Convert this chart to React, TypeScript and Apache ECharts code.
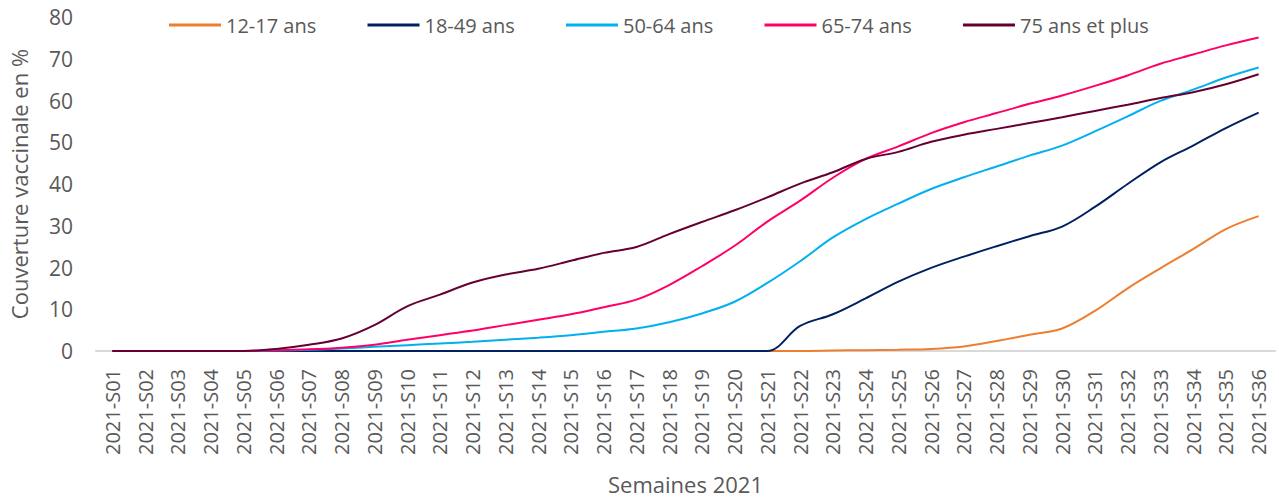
import React, { useEffect, useRef } from "react";
import * as echarts from "echarts";

const weeks = Array.from({ length: 36 }, (_, i) => `2021-S${String(i + 1).padStart(2, "0")}`);

const seriesNames = ["12-17 ans", "18-49 ans", "50-64 ans", "65-74 ans", "75 ans et plus"];
const seriesColors = ["#ED7D31", "#002060", "#00B0F0", "#FF0066", "#660033"];

const v1217 = [
  null, null, null, null, null, null, null, null, null, null,
  null, null, null, null, null, null, null, null, null, null,
  0, 0, 0.1, 0.2, 0.3, 0.5, 1.1, 2.4, 3.9, 5.4,
  9.6, 15.0, 19.8, 24.4, 29.2, 32.3,
];
const v1849 = [
  0, 0, 0, 0, 0, 0, 0, 0, 0, 0,
  0, 0, 0, 0, 0, 0, 0, 0, 0, 0,
  0, 6.0, 8.8, 12.6, 16.6, 19.9, 22.6, 25.1, 27.5, 29.8,
  34.5, 40.0, 45.2, 49.2, 53.4, 57.1,
];
const v5064 = [
  0, 0, 0, 0, 0, 0.1, 0.3, 0.6, 1.0, 1.4,
  1.8, 2.2, 2.7, 3.2, 3.8, 4.6, 5.4, 6.9, 9.0, 11.8,
  16.3, 21.5, 27.2, 31.6, 35.3, 38.8, 41.6, 44.2, 46.8, 49.2,
  52.6, 56.2, 59.9, 62.6, 65.5, 67.9,
];
const v6574 = [
  0, 0, 0, 0, 0, 0.2, 0.4, 0.8, 1.5, 2.7,
  3.8, 4.9, 6.2, 7.5, 8.8, 10.5, 12.3, 15.8, 20.3, 25.2,
  31.0, 36.0, 41.5, 46.0, 49.0, 52.2, 54.8, 57.0, 59.2, 61.2,
  63.5, 66.0, 68.8, 71.0, 73.2, 75.1,
];
const v75 = [
  0, 0, 0, 0, 0, 0.5, 1.5, 3.0, 6.2, 10.7,
  13.5, 16.4, 18.3, 19.7, 21.6, 23.5, 24.9, 28.0, 30.9, 33.7,
  36.8, 40.1, 42.8, 46.0, 47.7, 50.1, 51.8, 53.2, 54.6, 56.0,
  57.5, 59.0, 60.6, 62.0, 63.9, 66.3,
];
const allValues = [v1217, v1849, v5064, v6574, v75];

const FONT = "Open Sans";
const GREY = "#595959";

export default function App() {
  const ref = useRef<HTMLDivElement>(null);
  useEffect(() => {
    if (!ref.current) return;
    const chart = echarts.init(ref.current, null, { renderer: "svg" });
    chart.setOption({
      animation: false,
      textStyle: { fontFamily: FONT },
      legend: seriesNames.map((name, i) => ({
        top: 9,
        left: 164 + i * 198.5,
        icon: "rect",
        itemWidth: 52,
        itemHeight: 3,
        itemGap: 0,
        data: [name],
        textStyle: { color: GREY, fontSize: 20, fontFamily: FONT, lineHeight: 22 },
      })),
      grid: { left: 88, right: 4, top: 17, bottom: 146, containLabel: false },
      xAxis: {
        type: "category",
        data: weeks,
        boundaryGap: true,
        name: "Semaines 2021",
        nameLocation: "middle",
        nameGap: 122,
        nameTextStyle: { color: GREY, fontSize: 22, fontFamily: FONT },
        axisLine: { lineStyle: { color: "#D9D9D9", width: 2 } },
        axisTick: { show: false },
        axisLabel: { rotate: 90, color: GREY, fontSize: 20, fontFamily: FONT, margin: 18, interval: 0 },
        splitLine: { show: false },
      },
      yAxis: {
        type: "value",
        min: 0,
        max: 80,
        interval: 10,
        name: "Couverture vaccinale en %",
        nameLocation: "middle",
        nameGap: 66,
        nameTextStyle: { color: GREY, fontSize: 22, fontFamily: FONT },
        axisLine: { show: false },
        axisTick: { show: false },
        splitLine: { show: false },
        axisLabel: { color: GREY, fontSize: 21, fontFamily: FONT, margin: 23 },
      },
      series: seriesNames.map((name, i) => ({
        name,
        type: "line",
        data: allValues[i],
        smooth: 0.35,
        symbol: "none",
        color: seriesColors[i],
        lineStyle: { width: 2, color: seriesColors[i] },
      })),
    });
    return () => chart.dispose();
  }, []);
  return <div ref={ref} style={{ position: "absolute", left: 0, top: 0, width: 1279, height: 500 }} />;
}
